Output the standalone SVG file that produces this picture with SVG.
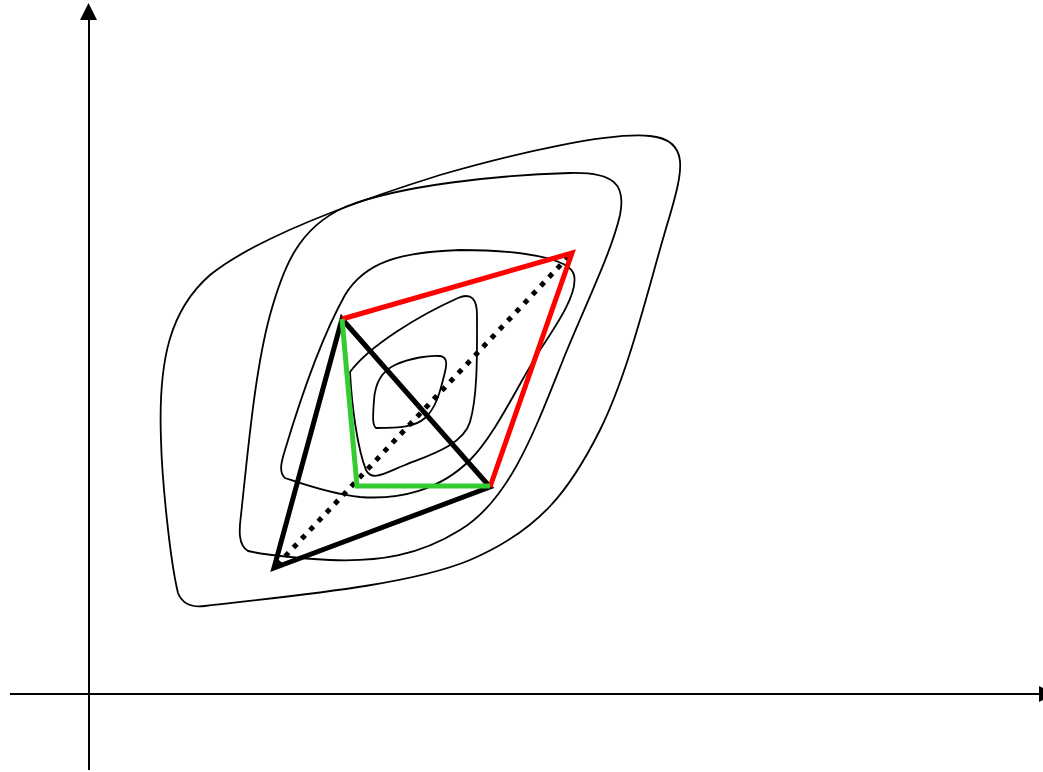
<svg xmlns="http://www.w3.org/2000/svg" width="1043" height="772" viewBox="0 0 1043 772">
<style>
.axis{stroke:#000;stroke-width:2;fill:none}
.contour{stroke:#000;stroke-width:1.8;fill:none;stroke-linejoin:round}
.thick{stroke-width:5;fill:none;stroke-linejoin:miter}
</style>
<rect width="1043" height="772" fill="#fff"/>
<g id="axes">
<line class="axis" x1="89" y1="770" x2="89" y2="18"/>
<polygon points="80,20 97,20 88.5,3" fill="#000"/>
<line class="axis" x1="10" y1="694" x2="1040" y2="694"/>
<polygon points="1039,686 1039,702 1056,694" fill="#000"/>
</g>
<g id="contours">
<path id="c1" class="contour" d="M 178,593 C 170,560 162,480 161,440 C 158,360 170,310 210,275 C 260,235 360,200 440,175 C 520,152 610,132 650,136 C 690,140 683,170 670,215 C 650,280 630,370 600,430 C 570,490 540,530 470,560 C 410,585 300,595 205,606 C 190,608 182,603 178,593 Z"/>
<path id="c2" class="contour" d="M 248,551 C 238,545 239,530 241,515 C 248,450 255,370 270,315 C 283,268 298,228 345,207 C 400,185 500,175 570,173 C 615,172 626,185 620,215 C 612,250 590,295 565,355 C 535,430 510,500 460,530 C 420,555 380,562 330,560 C 295,558 265,555 248,551 Z"/>
<path id="c3" class="contour" d="M 285,478 C 278,472 282,460 285,450 C 300,400 320,340 345,295 C 365,262 400,252 460,250 C 520,250 570,258 574,275 C 578,292 560,320 540,350 C 515,390 495,435 470,460 C 440,490 400,500 360,497 C 330,494 300,483 285,478 Z"/>
<path id="c4" class="contour" d="M 350,372 C 370,345 420,315 458,298 C 472,292 477,300 477,315 C 477,350 478,395 470,422 C 463,445 430,455 405,465 C 385,473 372,482 366,470 C 358,450 352,410 350,372 Z"/>
<path id="c5" class="contour" d="M 376,428 C 372,425 373,415 374,400 C 375,385 380,372 395,365 C 410,358 430,355 440,356 C 448,357 447,365 444,376 C 440,392 436,408 425,418 C 415,427 400,428 376,428 Z"/>
</g>
<g id="connectors">
<line id="dotted" x1="277" y1="565" x2="570" y2="255" stroke="#000" stroke-width="5" stroke-dasharray="5 7"/>
<polygon id="black-tri" class="thick" stroke="#000" points="342,319 274,568 490,487"/>
<polyline id="red" class="thick" stroke="#ff0000" points="342,319 572,253 490,487"/>
<polyline id="green" class="thick" stroke="#33cc33" points="342,319 357,486 490,486"/>
</g>
</svg>
